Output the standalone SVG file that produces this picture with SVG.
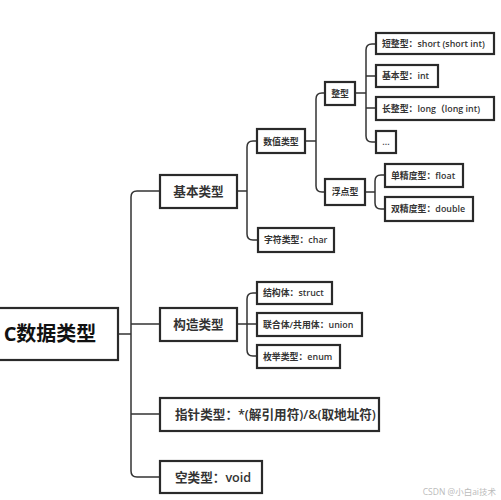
<svg xmlns="http://www.w3.org/2000/svg" width="501" height="500" viewBox="0 0 501 500">
<style>
.b{fill:#fff;stroke:#2a2a2a;stroke-width:2.2}
.c{fill:none;stroke:#333;stroke-width:1.5}
text{font-family:"Open Sans","Noto Sans CJK SC",sans-serif;fill:#333}
.s{font-size:8.9px;font-weight:600}
.m{font-size:12.6px;font-weight:600}
.r{font-size:20px;font-weight:700;fill:#111}
</style>
<rect width="501" height="500" fill="#fff"/>
<g id="connectors">
<path class="c" d="M118,334 H131"/>
<path class="c" d="M160,191 H137 Q131,191 131,197 V471 Q131,477 137,477 H160"/>
<path class="c" d="M131,324 H160 M131,414 H160"/>
<path class="c" d="M237,191 H247 M257,141 H253 Q247,141 247,147 V234 Q247,240 253,240 H258"/>
<path class="c" d="M305,141 H316 M325,93 H322 Q316,93 316,99 V186 Q316,192 322,192 H325"/>
<path class="c" d="M355,93 H366 M376,44 H372 Q366,44 366,50 V136 Q366,142 372,142 H376 M366,76 H376 M366,108 H376"/>
<path class="c" d="M365,192 H375 M385,175 H381 Q375,175 375,181 V203 Q375,209 381,209 H385"/>
<path class="c" d="M237,324 H247 M257,293 H253 Q247,293 247,299 V350 Q247,356 253,356 H257 M247,324 H257"/>
</g>
<g id="root"><rect class="b" x="-5" y="308" width="123" height="52"/><text class="r" x="50" y="341" text-anchor="middle">C数据类型</text></g>
<g id="basic"><rect class="b" x="160" y="175" width="77" height="33"/><text class="m" x="198.5" y="196" text-anchor="middle">基本类型</text></g>
<g id="numeric"><rect class="b" x="257" y="129" width="48" height="24"/><text class="s" x="281" y="144.5" text-anchor="middle">数值类型</text></g>
<g id="integer"><rect class="b" x="325" y="82" width="30" height="23"/><text class="s" x="340" y="96.5" text-anchor="middle">整型</text></g>
<g id="short"><rect class="b" x="376" y="33" width="118" height="21"/><text class="s" x="382" y="46.5">短整型：short (short int)</text></g>
<g id="int"><rect class="b" x="376" y="65" width="62" height="22"/><text class="s" x="382" y="79">基本型：int</text></g>
<g id="long"><rect class="b" x="376" y="97" width="118" height="23"/><text class="s" x="382" y="111.5">长整型：long（long int)</text></g>
<g id="etc"><rect class="b" x="376" y="131" width="20" height="22"/><text class="s" x="386" y="145" text-anchor="middle">...</text></g>
<g id="floating"><rect class="b" x="325" y="179" width="40" height="26"/><text class="s" x="345" y="195" text-anchor="middle">浮点型</text></g>
<g id="float"><rect class="b" x="385" y="164" width="78" height="23"/><text class="s" x="391" y="178.5">单精度型：float</text></g>
<g id="double"><rect class="b" x="385" y="197" width="88" height="24"/><text class="s" x="391" y="212">双精度型：double</text></g>
<g id="char"><rect class="b" x="258" y="228" width="76" height="24"/><text class="s" x="264" y="243">字符类型：char</text></g>
<g id="construct"><rect class="b" x="160" y="308" width="77" height="33"/><text class="m" x="198.5" y="329" text-anchor="middle">构造类型</text></g>
<g id="struct"><rect class="b" x="257" y="282" width="75" height="22"/><text class="s" x="263" y="296">结构体：struct</text></g>
<g id="union"><rect class="b" x="257" y="313" width="105" height="23"/><text class="s" x="263" y="327.5">联合体/共用体：union</text></g>
<g id="enum"><rect class="b" x="257" y="345" width="83" height="23"/><text class="s" x="263" y="359.5">枚举类型：enum</text></g>
<g id="pointer"><rect class="b" x="160" y="398" width="219" height="33"/><text class="m" x="175" y="419">指针类型：*(解引用符)/&amp;(取地址符)</text></g>
<g id="void"><rect class="b" x="160" y="461" width="102" height="32"/><text class="m" x="175" y="482">空类型：void</text></g>
<text x="496" y="495" text-anchor="end" style="font-size:8.5px;fill:#bbb">CSDN @小白ai技术</text>
</svg>
